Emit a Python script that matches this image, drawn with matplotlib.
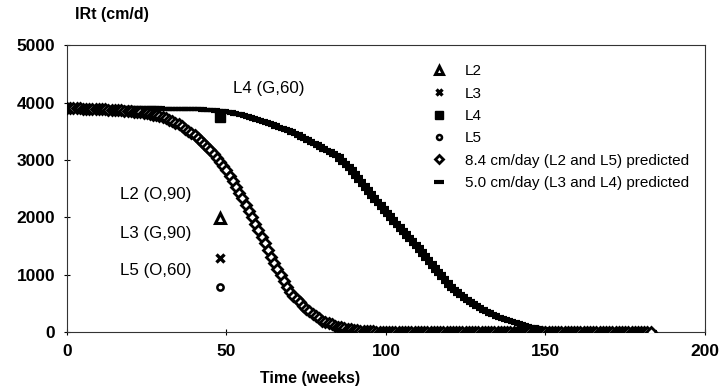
import matplotlib
matplotlib.use('Agg')
import matplotlib.pyplot as plt

plt.rcParams['font.family'] = ['Liberation Sans', 'DejaVu Sans']

# predicted curves, one value per week (0..183)
weeks = list(range(0, 184))

pred_84 = [3900, 3899, 3898, 3897, 3896, 3895, 3893, 3891, 3889, 3887,
           3885, 3882, 3879, 3876, 3873, 3870, 3866, 3862, 3858, 3854,
           3850, 3843, 3836, 3829, 3822, 3815, 3802, 3789, 3776, 3763,
           3750, 3724, 3698, 3672, 3646, 3620, 3582, 3544, 3506, 3468,
           3430, 3380, 3330, 3280, 3230, 3180, 3108, 3036, 2964, 2892,
           2820, 2722, 2624, 2526, 2428, 2330, 2220, 2110, 2000, 1890,
           1780, 1664, 1548, 1432, 1316, 1200, 1098, 996, 894, 792,
           690, 632, 574, 516, 458, 400, 360, 320, 280, 240,
           200, 178, 156, 134, 112, 90, 79, 68, 57, 46,
           35, 30, 26, 21, 17, 12, 10, 7, 5, 2,
           0, 0, 0, 0, 0, 0, 0, 0, 0, 0,
           0, 0, 0, 0, 0, 0, 0, 0, 0, 0,
           0, 0, 0, 0, 0, 0, 0, 0, 0, 0,
           0, 0, 0, 0, 0, 0, 0, 0, 0, 0,
           0, 0, 0, 0, 0, 0, 0, 0, 0, 0,
           0, 0, 0, 0, 0, 0, 0, 0, 0, 0,
           0, 0, 0, 0, 0, 0, 0, 0, 0, 0,
           0, 0, 0, 0, 0, 0, 0, 0, 0, 0,
           0, 0, 0, 0]

pred_50 = [3900, 3900, 3900, 3900, 3900, 3900, 3900, 3900, 3900, 3900,
           3900, 3900, 3900, 3900, 3900, 3900, 3900, 3900, 3900, 3900,
           3900, 3900, 3899, 3899, 3898, 3898, 3897, 3897, 3896, 3896,
           3895, 3894, 3893, 3892, 3891, 3890, 3889, 3888, 3887, 3886,
           3885, 3882, 3879, 3876, 3873, 3870, 3864, 3858, 3852, 3846,
           3840, 3828, 3816, 3804, 3792, 3780, 3764, 3748, 3732, 3716,
           3700, 3680, 3660, 3640, 3620, 3600, 3580, 3560, 3540, 3520,
           3500, 3472, 3444, 3416, 3388, 3360, 3330, 3300, 3270, 3240,
           3210, 3180, 3150, 3120, 3090, 3060, 3004, 2948, 2892, 2836,
           2780, 2708, 2636, 2564, 2492, 2420, 2356, 2292, 2228, 2164,
           2100, 2036, 1972, 1908, 1844, 1780, 1720, 1660, 1600, 1540,
           1480, 1412, 1344, 1276, 1208, 1140, 1072, 1004, 936, 868,
           800, 756, 712, 668, 624, 580, 544, 508, 472, 436,
           400, 374, 348, 322, 296, 270, 250, 230, 210, 190,
           170, 154, 138, 122, 106, 90, 80, 70, 60, 50,
           40, 35, 30, 25, 20, 15, 12, 9, 6, 3,
           0, 0, 0, 0, 0, 0, 0, 0, 0, 0,
           0, 0, 0, 0, 0, 0, 0, 0, 0, 0,
           0, 0, 0, 0]

# observed values at week 48
obs_week = [48]
obs_L2 = [1990]
obs_L3 = [1290]
obs_L4 = [3740]
obs_L5 = [780]

fig = plt.figure(figsize=(7.2, 3.89), dpi=100)
ax = fig.add_axes([0.093, 0.1465, 0.886, 0.7375])

ax.plot(weeks, pred_50, linestyle='none', marker='_', markersize=9,
        markeredgewidth=3, color='black', label='5.0 cm/day (L3 and L4) predicted', zorder=2)
ax.plot(weeks, pred_84, linestyle='none', marker='D', markersize=5.5,
        markerfacecolor='white', markeredgecolor='black', markeredgewidth=2,
        label='8.4 cm/day (L2 and L5) predicted', zorder=3)

ax.plot(obs_week, obs_L2, linestyle='none', marker='^', markersize=7,
        markerfacecolor='white', markeredgecolor='black', markeredgewidth=2.2, label='L2')
ax.plot(obs_week, obs_L3, linestyle='none', marker='x', markersize=6,
        markeredgewidth=2.4, color='black', label='L3')
ax.plot(obs_week, obs_L4, linestyle='none', marker='s', markersize=7,
        color='black', label='L4', zorder=4)
ax.plot(obs_week, obs_L5, linestyle='none', marker='o', markersize=4.5,
        markerfacecolor='white', markeredgecolor='black', markeredgewidth=1.8, label='L5')

handles, labels = ax.get_legend_handles_labels()
order = [2, 3, 4, 5, 1, 0]
ax.legend([handles[i] for i in order], [labels[i] for i in order],
          loc='upper left', bbox_to_anchor=(0.561, 0.955), frameon=False,
          fontsize=11, handlelength=1.0, handletextpad=1.2, labelspacing=0.55,
          markerscale=0.8, borderaxespad=0)

ax.text(16.7, 2390, 'L2 (O,90)', fontsize=12.2, va='center', ha='left')
ax.text(16.7, 1725, 'L3 (G,90)', fontsize=12.2, va='center', ha='left')
ax.text(16.7, 1080, 'L5 (O,60)', fontsize=12.2, va='center', ha='left')
ax.text(52, 4250, 'L4 (G,60)', fontsize=12.2, va='center', ha='left')

ax.set_xlim(0, 200)
ax.set_ylim(0, 5000)
ax.set_xticks([0, 50, 100, 150, 200])
ax.set_yticks([0, 1000, 2000, 3000, 4000, 5000])
ax.tick_params(direction='inout', length=5, width=0.8, labelsize=12.5)
ax.tick_params(axis='y', pad=6)
ax.tick_params(axis='x', pad=6)
for lab in ax.get_xticklabels() + ax.get_yticklabels():
    lab.set_fontweight('bold')
for sp in ax.spines.values():
    sp.set_linewidth(0.8)
    sp.set_color('#333333')

ax.set_xlabel('Time (weeks)', fontsize=11.5, fontweight='bold')
ax.xaxis.set_label_coords(0.381, -0.135)
fig.text(75 / 720, 1 - 15 / 389, 'IRt (cm/d)', fontsize=11.5, fontweight='bold',
         ha='left', va='center')

fig.savefig('out.png', dpi=100)
